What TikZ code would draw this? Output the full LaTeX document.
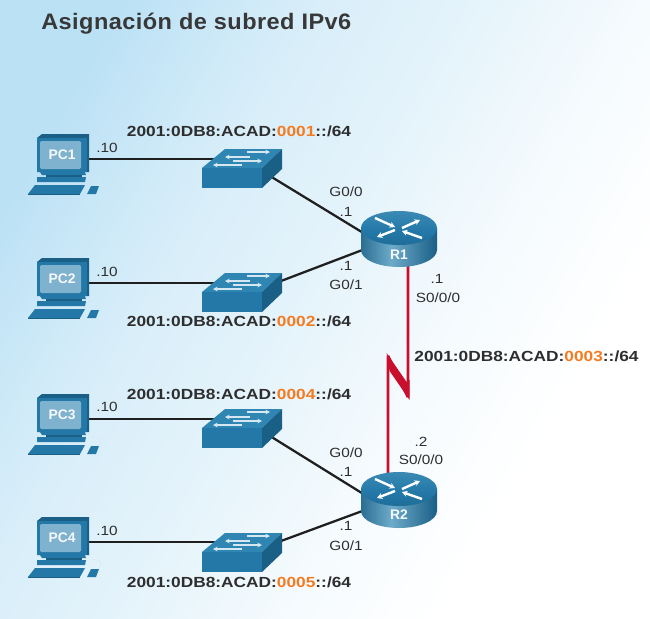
\documentclass[tikz,border=0pt]{standalone}
\usepackage{fontspec}
\setmainfont{Liberation Sans}
\newfontfamily\titlefont[FakeStretch=1.05,LetterSpace=2]{Liberation Sans Bold}
\newfontfamily\lblfont[FakeStretch=1.15]{Liberation Sans}
\newfontfamily\addrfont[FakeStretch=1.18]{Liberation Sans Bold}
\usetikzlibrary{arrows.meta,calc}
\definecolor{txtdark}{HTML}{2E2E2E}
\definecolor{orng}{HTML}{F47B20}
\definecolor{icoA}{HTML}{2378A8}
\definecolor{icoB}{HTML}{2F86B2}
\definecolor{icoC}{HTML}{1A5F86}
\definecolor{icoD}{HTML}{7FB2CF}
\definecolor{serialred}{HTML}{C8102E}
\definecolor{bgA}{HTML}{BBE1F5}
\definecolor{bgB}{HTML}{D6EDF9}
\definecolor{bgC}{HTML}{E6F4FB}
\definecolor{bgD}{HTML}{F6FBFE}
\pgfdeclarehorizontalshading{skyshade}{100bp}{
 color(0bp)=(bgA);
 color(24bp)=(bgA);
 color(36bp)=(bgB);
 color(49bp)=(bgC);
 color(60bp)=(bgD);
 color(70bp)=(white);
 color(100bp)=(white)}
\pgfdeclarehorizontalshading{cylside}{100bp}{
 color(0bp)=(icoC!85!black);
 color(20bp)=(icoC);
 color(45bp)=(icoB!70!white);
 color(75bp)=(icoC);
 color(100bp)=(icoC!70!black)}
\pgfdeclareverticalshading{cyltop}{100bp}{
 color(0bp)=(icoC);
 color(45bp)=(icoA);
 color(100bp)=(icoB!85!white)}
\tikzset{
 x=0.75pt,y=-0.75pt,
 lan/.style={draw=black!88,line width=1.7pt},
 serialline/.style={draw=serialred,line width=2.2pt,line join=bevel},
 addr/.style={font=\addrfont\fontsize{11pt}{12pt}\selectfont,text=txtdark,inner sep=0pt},
 lbl/.style={font=\lblfont\fontsize{10pt}{11pt}\selectfont,text=txtdark,inner sep=0pt},
 devlbl/.style={font=\bfseries\fontsize{10.4pt}{11pt}\selectfont,text=white!92!icoD,inner sep=0pt},
 swarrow/.style={draw=white!80!icoB,line width=1.5pt},
 pics/pcicon/.style={code={
   \fill[icoC] (-25,-17) -- (-20,-21) -- (27,-21) -- (27,17) -- (-25,17) -- cycle;
   \fill[icoA] (-25,-17) -- (25,-17) -- (25,17) -- (-25,17) -- cycle;
   \fill[icoD,rounded corners=1pt] (-22,-14) rectangle (19,14);
   \fill[icoA] (-22,17) -- (23,17) -- (24,20) -- (-20,20) -- cycle;
   \fill[icoC] (-16,20) rectangle (20,22);
   \fill[icoA] (-25,22) -- (24,22) -- (23,27) -- (-25,27) -- cycle;
   \fill[icoA] (-27,30) -- (23,30) -- (18,39) -- (-34,39) -- cycle;
   \fill[icoC] (-34,39) -- (18,39) -- (18,40) -- (-34,40) -- cycle;
   \fill[icoA] (29,31) -- (37,31) -- (34,39) -- (25,39) -- cycle;
   \draw[white!70!icoD,line width=0.4pt] (30,22) .. controls (38,21) and (42,24) .. (36,31);
 }},
 pics/switchicon/.style={code={
   \fill[icoB] (-40,0) -- (-17,-19) -- (40,-19) -- (20,0) -- cycle;
   \fill[icoC] (20,0) -- (40,-19) -- (40,1) -- (20,20) -- cycle;
   \fill[icoA] (-40,0) rectangle (20,20);
   \draw[swarrow,-{Stealth[length=3.5pt,width=3.5pt]}] (5,-16) -- (28,-16);
   \draw[swarrow,{Stealth[length=3.5pt,width=3.5pt]}-] (-17,-11) -- (8,-11);
   \draw[swarrow,-{Stealth[length=3.5pt,width=3.5pt]}] (-9,-7) -- (20,-7);
   \draw[swarrow,{Stealth[length=3.5pt,width=3.5pt]}-] (-29,-3) -- (0,-3);
 }},
 pics/routericon/.style={code={
   \shade[shading=cylside] (-38,0) -- (-38,22) arc[start angle=180,end angle=0,x radius=38,y radius=17] -- (38,0) -- cycle;
   \shade[shading=cyltop] (0,0) ellipse[x radius=38,y radius=17];
   \foreach \a/\b/\c/\d in {-24/-10/-4/-1, -4/2/-22/9, 3/0/21/-8, 23/10/3/3}{
     \draw[white,line width=1.8pt,-{Stealth[length=4pt,width=4.5pt]}] (\a,\b) -- (\c,\d);
   }
 }}
}
\begin{document}
\begin{tikzpicture}
\useasboundingbox (0,0) rectangle (650,618);
\path[shading=skyshade,shading angle=-30] (0,0) rectangle (650,618);
% anchors
\foreach \n/\y in {1/159,2/283,3/419,4/542}{ \coordinate (pc\n p) at (89,\y); }
\coordinate (s1w) at (215,159); \coordinate (s2w) at (215,283);
\coordinate (s3w) at (215,419); \coordinate (s4w) at (215,542);
\coordinate (s1e) at (270,176); \coordinate (s2e) at (281,281);
\coordinate (s3e) at (270,436); \coordinate (s4e) at (281,541);
\coordinate (r1a) at (365,234); \coordinate (r1b) at (365,249);
\coordinate (r2a) at (365,495); \coordinate (r2b) at (365,510);
\coordinate (r1s) at (408,262); \coordinate (z1) at (408,397);
\coordinate (z2) at (388,356); \coordinate (r2n) at (388,478);
% connectors
\draw[lan] (pc1p) -- (s1w); \draw[lan] (pc2p) -- (s2w);
\draw[lan] (pc3p) -- (s3w); \draw[lan] (pc4p) -- (s4w);
\draw[lan] (s1e) -- (r1a); \draw[lan] (s2e) -- (r1b);
\draw[lan] (s3e) -- (r2a); \draw[lan] (s4e) -- (r2b);
\draw[serialline] (r1s) -- (z1) -- (z2) -- (r2n);
\fill[serialred] (409.6,380) -- (409.6,400) -- (389.6,371) -- (386.6,353) -- (406.6,382) -- cycle;
% devices
\pic at (62,155) {pcicon}; \pic at (62,279) {pcicon};
\pic at (62,415) {pcicon}; \pic at (62,538) {pcicon};
\pic at (242,168) {switchicon}; \pic at (242,292) {switchicon};
\pic at (242,428) {switchicon}; \pic at (242,552) {switchicon};
\pic at (399,228) {routericon}; \pic at (399,489) {routericon};
\node[devlbl] (pc1) at (62,155) {PC1};
\node[devlbl] (pc2) at (62,279) {PC2};
\node[devlbl] (pc3) at (62,415) {PC3};
\node[devlbl] (pc4) at (62,538) {PC4};
\node[devlbl] (r1) at (399,255) {R1};
\node[devlbl] (r2) at (399,515) {R2};
% title
\node[font=\titlefont\fontsize{16.8pt}{20pt}\selectfont,text=black!78,anchor=west,inner sep=0pt] (title) at (41,24) {Asignación de subred IPv6};
% addresses
\node[addr] (a1) at (239,131.5) {2001:0DB8:ACAD:\textcolor{orng}{0001}::/64};
\node[addr] (a2) at (239,321.5) {2001:0DB8:ACAD:\textcolor{orng}{0002}::/64};
\node[addr] (a3) at (526.5,356.5) {2001:0DB8:ACAD:\textcolor{orng}{0003}::/64};
\node[addr] (a4) at (239,394.5) {2001:0DB8:ACAD:\textcolor{orng}{0004}::/64};
\node[addr] (a5) at (239,582.5) {2001:0DB8:ACAD:\textcolor{orng}{0005}::/64};
% interface labels
\node[lbl] (h1) at (107,148) {.10};
\node[lbl] (h2) at (107,272) {.10};
\node[lbl] (h3) at (107,407) {.10};
\node[lbl] (h4) at (107,531) {.10};
\node[lbl] (g1) at (346,192) {G0/0};
\node[lbl] (i1) at (346,212) {.1};
\node[lbl] (i2) at (346,266) {.1};
\node[lbl] (g2) at (346,285) {G0/1};
\node[lbl] (i3) at (437,279) {.1};
\node[lbl] (s1) at (438,298) {S0/0/0};
\node[lbl] (i4) at (421,442) {.2};
\node[lbl] (s2) at (421,460) {S0/0/0};
\node[lbl] (g3) at (346,453) {G0/0};
\node[lbl] (i5) at (346,472) {.1};
\node[lbl] (i6) at (346,526) {.1};
\node[lbl] (g4) at (346,546) {G0/1};
\end{tikzpicture}
\end{document}
